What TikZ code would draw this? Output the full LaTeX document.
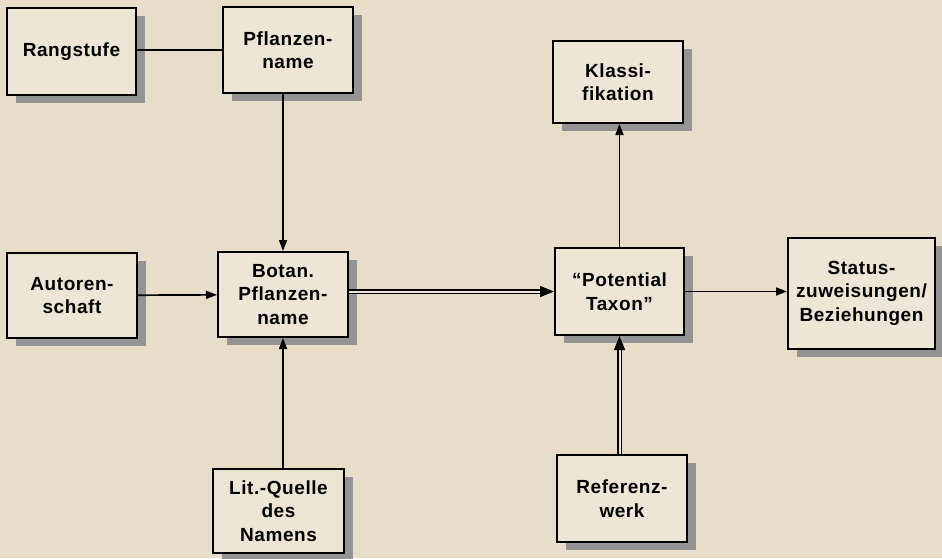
\documentclass[tikz,border=0pt]{standalone}
\usepackage{fontspec}
\setmainfont{Liberation Sans}[LetterSpace=3]
\usepackage{tikz}
\usetikzlibrary{ arrows.meta, % For the arrow tips
                 shadows,     % For the drop shadows of the boxes
                 positioning,
               }
\definecolor{paper}{RGB}{232,221,200}
\definecolor{boxfill}{RGB}{237,229,214}
\tikzstyle{box} = [rectangle, draw=black, line width=2pt, fill=boxfill,
                   text centered, align=center, inner sep=2pt,
                   font=\fontsize{19}{23.5}\selectfont\bfseries,
                   minimum width=130pt, minimum height=86pt,
                   drop shadow={shadow xshift=9pt, shadow yshift=-8pt,
                                fill=black!42, opacity=1}]
\tikzstyle{link} = [line width=1.7pt]
\tikzstyle{arrow} = [line width=1.7pt, -{Triangle[length=11pt, width=8pt]}]
\tikzstyle{dblarrow} = [line width=1.2pt, double=boxfill, double distance=2pt,
                        -{Triangle[length=14pt, width=11pt]}]

\begin{document}
\begin{tikzpicture}[x=1pt, y=-1pt]
  \fill [paper] (0, 0) rectangle (942, 558);
  \useasboundingbox (0, 0) rectangle (942, 558);

  % top row
  \node (rang) [box, minimum width=129pt, minimum height=87pt] at (71.5, 51.5) {Rangstufe};
  \node (pname) [box] at (288, 50) {Pflanzen-\\name};
  \node (klass) [box, minimum height=82pt] at (618, 82) {Klassi-\\fikation};

  % middle row
  \node (autor) [box, minimum height=85pt] at (72, 295.5) {Autoren-\\schaft};
  \node (botan) [box, minimum height=85pt] at (283, 294.5) {Botan.\\Pflanzen-\\name};
  \node (taxon) [box, minimum width=129pt, minimum height=87pt] at (619.5, 291.5) {``Potential\\Taxon''};
  \node (status) [box, minimum width=147pt, minimum height=111pt] at (861.5, 293) {Status-\\zuweisungen/\\Beziehungen};

  % bottom row
  \node (litq) [box, minimum width=131pt, minimum height=84pt] at (278.5, 511) {Lit.-Quelle\\des\\Namens};
  \node (refw) [box, minimum height=87pt] at (622, 498.5) {Referenz-\\werk};

  % connectors
  \draw [link] (rang.east |- pname) -- (pname.west);
  \draw [arrow] (pname.south -| botan) -- (botan.north);
  \draw [arrow] (autor) -- (botan);
  \draw [arrow] (litq.north -| botan) -- (botan.south);
  \draw [dblarrow] (botan.east |- taxon) -- (taxon.west);
  \draw [arrow] (taxon.north) -- (taxon.north |- klass.south);
  \draw [arrow] (taxon.east) -- (taxon.east -| status.west);
  \draw [dblarrow] (refw.north -| taxon) -- (taxon.south);
\end{tikzpicture}
\end{document}
